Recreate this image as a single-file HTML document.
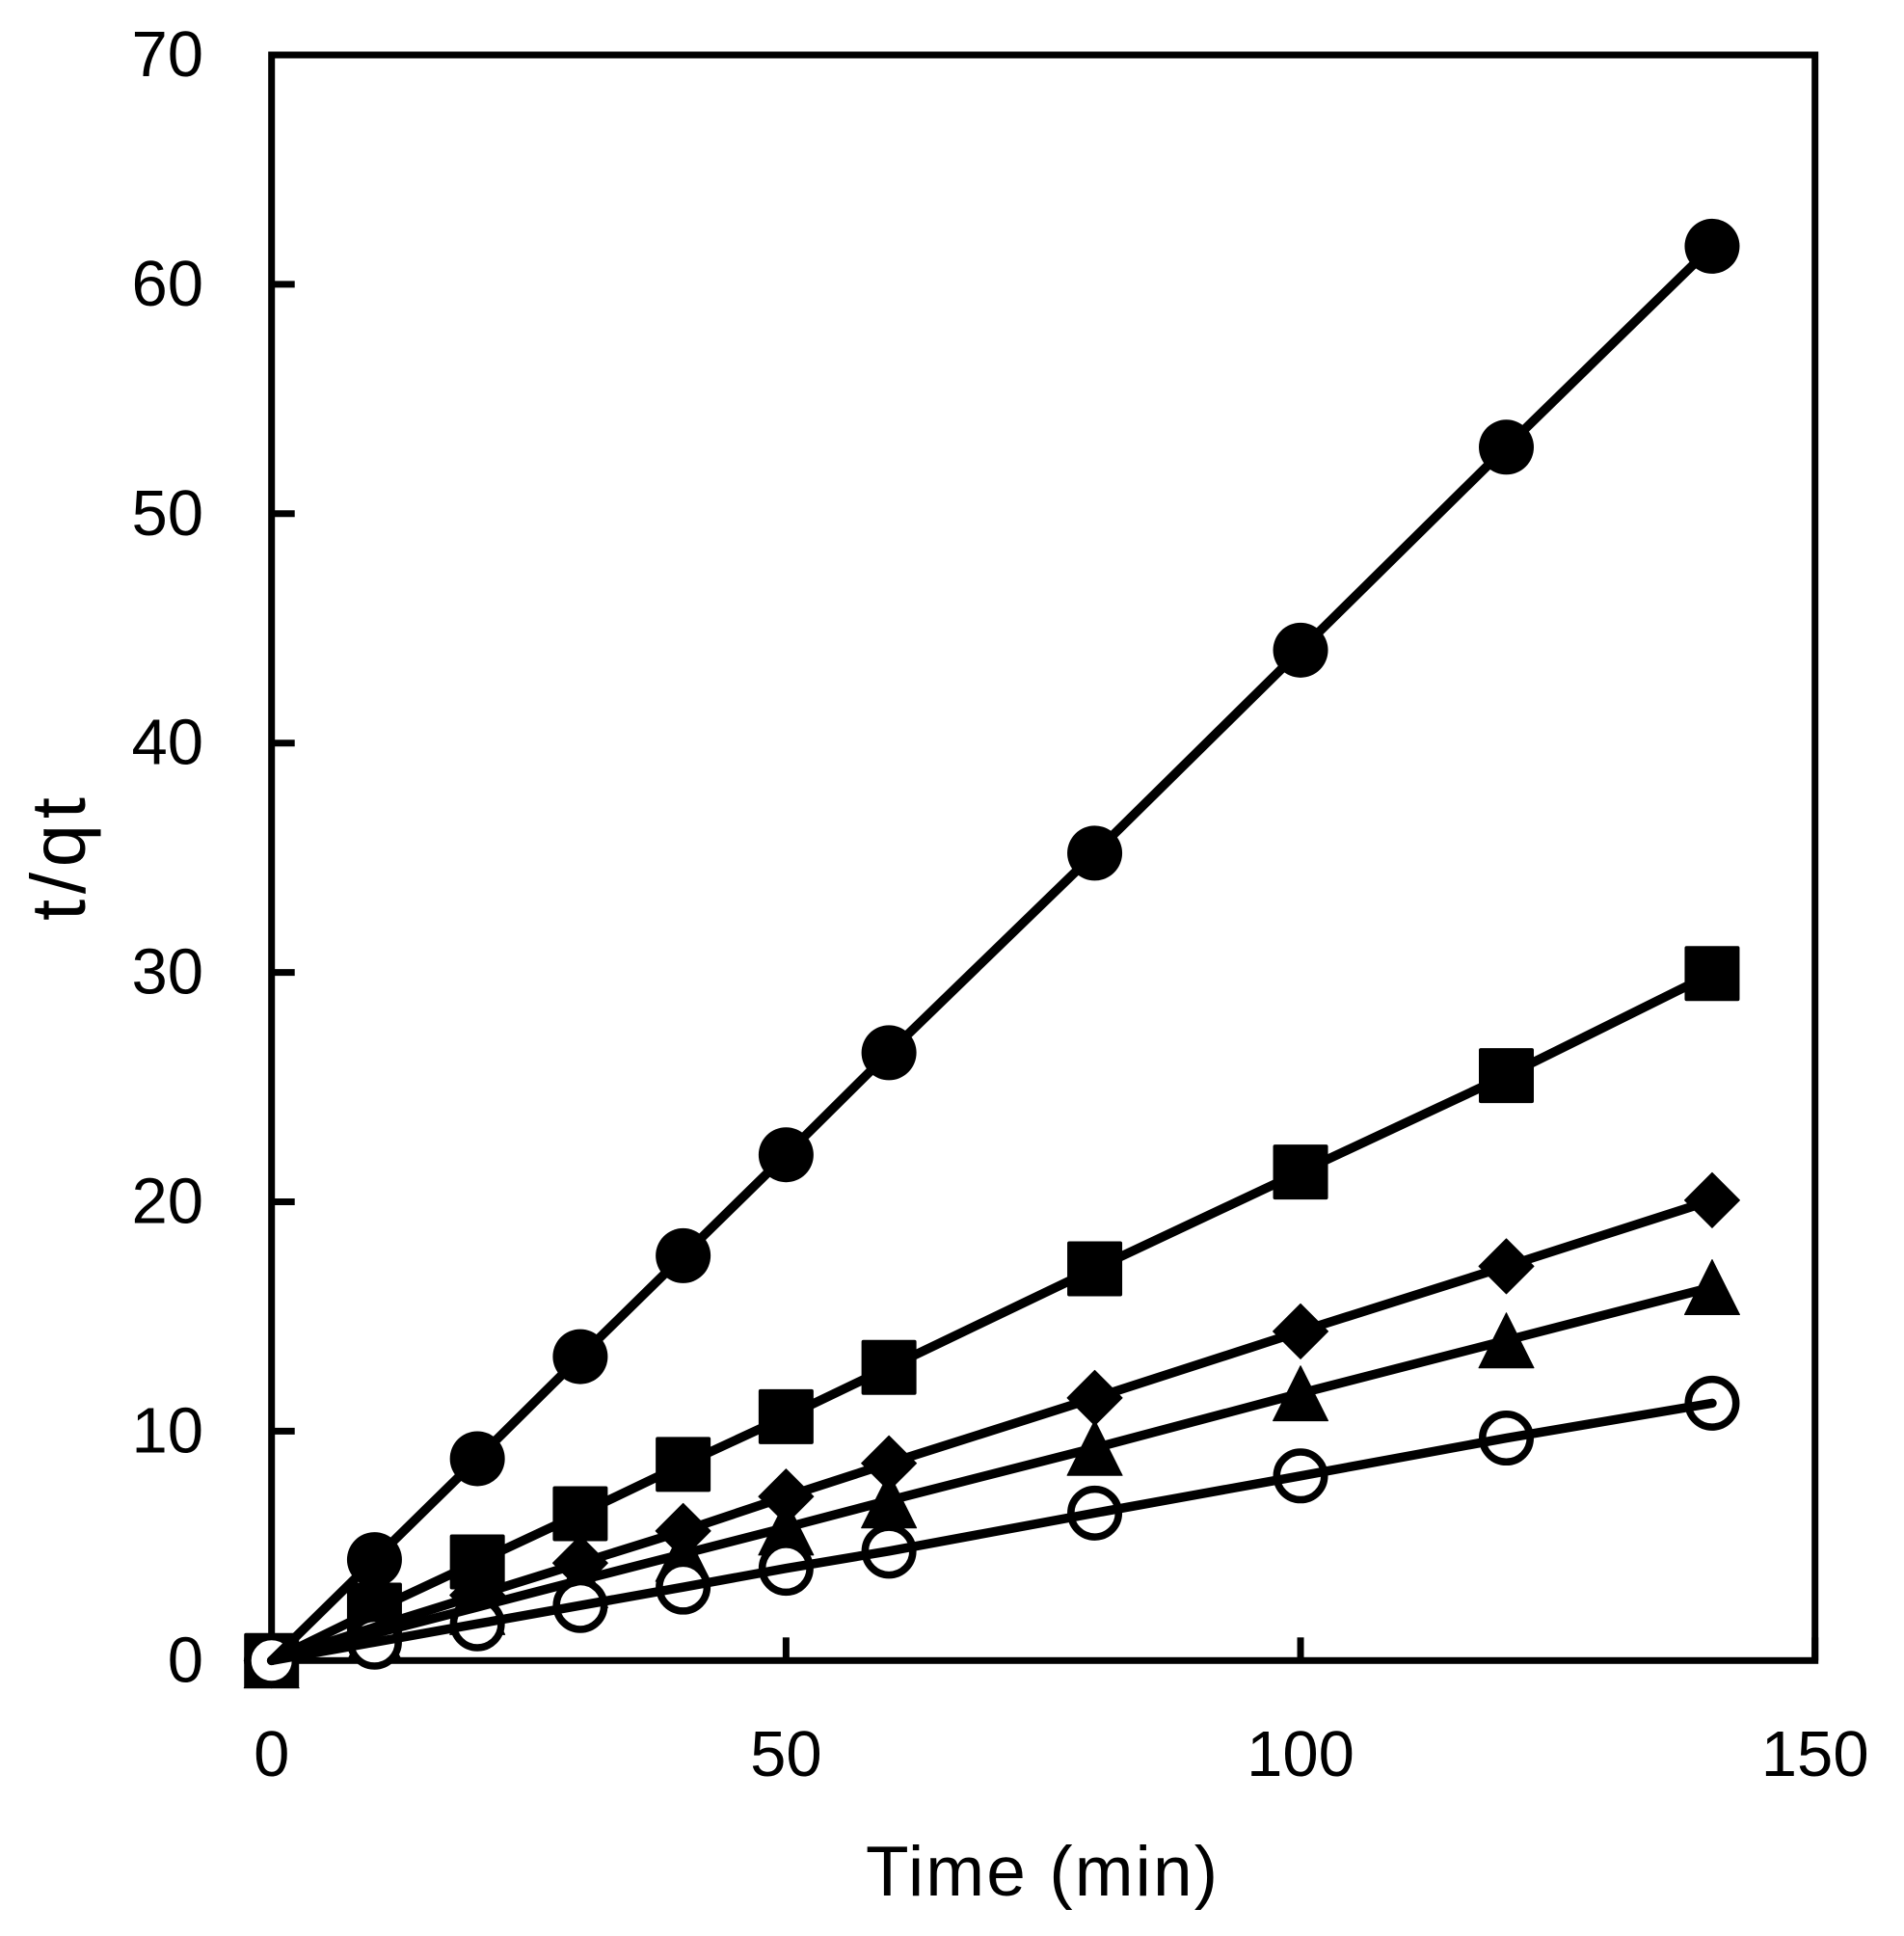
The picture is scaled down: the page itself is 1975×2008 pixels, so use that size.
<!DOCTYPE html>
<html lang="en">
<head>
<meta charset="utf-8">
<title>t/qt versus time</title>
<style>
html,body{margin:0;padding:0;background:#fff;}
svg{display:block;}
text{font-family:"Liberation Sans",sans-serif;fill:#000;}
</style>
</head>
<body>
<svg id="chart" xmlns="http://www.w3.org/2000/svg" width="1975" height="2008" viewBox="0 0 1975 2008"></svg>
<script>
const times = [0, 10, 20, 30, 40, 50, 60, 80, 100, 120, 140];
const filledCircleValues = [0, 4.4, 8.8, 13.25, 17.65, 22.05, 26.5, 35.2, 44.05, 52.9, 61.66];
const squareValues = [0, 2.2, 4.3, 6.4, 8.55, 10.63, 12.78, 17.08, 21.3, 25.5, 29.95];
const diamondValues = [0, 1.45, 2.85, 4.25, 5.65, 7.15, 8.6, 11.45, 14.35, 17.19, 20.07];
const triangleValues = [0, 1.17, 2.33, 3.5, 4.65, 5.8, 6.98, 9.27, 11.65, 13.96, 16.28];
const openCircleValues = [0, 0.8, 1.6, 2.4, 3.2, 4.02, 4.77, 6.43, 8.05, 9.7, 11.22];
const xTicks = [0, 50, 100, 150];
const yTicks = [0, 10, 20, 30, 40, 50, 60, 70];

const svg = document.getElementById('chart');
const NS = 'http://www.w3.org/2000/svg';
const left = 281.7, right = 1882.7, top_ = 57, bottom = 1722.3;
const xMax = 150, yMax = 70;
function xScale(v) { return left + (v / xMax) * (right - left); }
function yScale(v) { return bottom - (v / yMax) * (bottom - top_); }
function make(tag, attrs) {
  const el = document.createElementNS(NS, tag);
  for (const k in attrs) el.setAttribute(k, attrs[k]);
  svg.appendChild(el);
  return el;
}

const frame = make('rect', {x: left, y: top_, width: right - left, height: bottom - top_, fill: '#fff', stroke: '#000', 'stroke-width': 7});



xTicks.forEach(function (t) {
  const tick = make('line', {x1: xScale(t), x2: xScale(t), y1: bottom, y2: bottom - 24, stroke: '#000', 'stroke-width': 7});
  
  
  const label = make('text', {x: xScale(t), y: 1842, 'font-size': 67, 'text-anchor': 'middle'});
  label.textContent = String(t);
  
  
});

yTicks.forEach(function (t) {
  const tick = make('line', {x1: left, x2: left + 24, y1: yScale(t), y2: yScale(t), stroke: '#000', 'stroke-width': 7});
  
  
  const label = make('text', {x: 211, y: yScale(t) + 22, 'font-size': 67, 'text-anchor': 'end'});
  label.textContent = String(t);
  
  
});

const xTitle = make('text', {x: 898, y: 1966, 'font-size': 73, textLength: 365, lengthAdjust: 'spacing'});
xTitle.textContent = 'Time (min)';



const yTitle = make('text', {x: 0, y: 0, 'font-size': 80, textLength: 128, lengthAdjust: 'spacing', transform: 'translate(88,955) rotate(-90)'});
yTitle.textContent = 't/qt';



const R = 28.5;
function drawMarker(kind, cx, cy) {
  if (kind === 'square') {
    return make('rect', {x: cx - R, y: cy - R, width: 2 * R, height: 2 * R, rx: 2, fill: '#000'});
  }
  if (kind === 'diamond') {
    return make('polygon', {points: [cx, cy - R, cx + R, cy, cx, cy + R, cx - R, cy].join(' '), fill: '#000', stroke: '#000', 'stroke-width': 1, 'stroke-linejoin': 'round'});
  }
  if (kind === 'triangle') {
    return make('polygon', {points: [cx, cy - R, cx + R, cy + R, cx - R, cy + R].join(' '), fill: '#000', stroke: '#000', 'stroke-width': 1, 'stroke-linejoin': 'round'});
  }
  if (kind === 'open') {
    return make('circle', {cx: cx, cy: cy, r: R - 3.75, fill: '#fff', stroke: '#000', 'stroke-width': 7.5});
  }
  return make('circle', {cx: cx, cy: cy, r: R, fill: '#000'});
}

const seriesList = [
  {name: 'filled-circle', kind: 'circle', values: filledCircleValues},
  {name: 'square', kind: 'square', values: squareValues},
  {name: 'diamond', kind: 'diamond', values: diamondValues},
  {name: 'triangle', kind: 'triangle', values: triangleValues},
  {name: 'open-circle', kind: 'open', values: openCircleValues}
];

seriesList.forEach(function (s) {
  s.values.forEach(function (v, i) {
    const m = drawMarker(s.kind, xScale(times[i]), yScale(v));
    
    
  });
});

seriesList.forEach(function (s) {
  const pts = s.values.map(function (v, i) { return xScale(times[i]) + ',' + yScale(v); }).join(' ');
  const line = make('polyline', {points: pts, fill: 'none', stroke: '#000', 'stroke-width': 9.5, 'stroke-linejoin': 'round', 'stroke-linecap': 'round'});
  
  
});
</script>
</body>
</html>
